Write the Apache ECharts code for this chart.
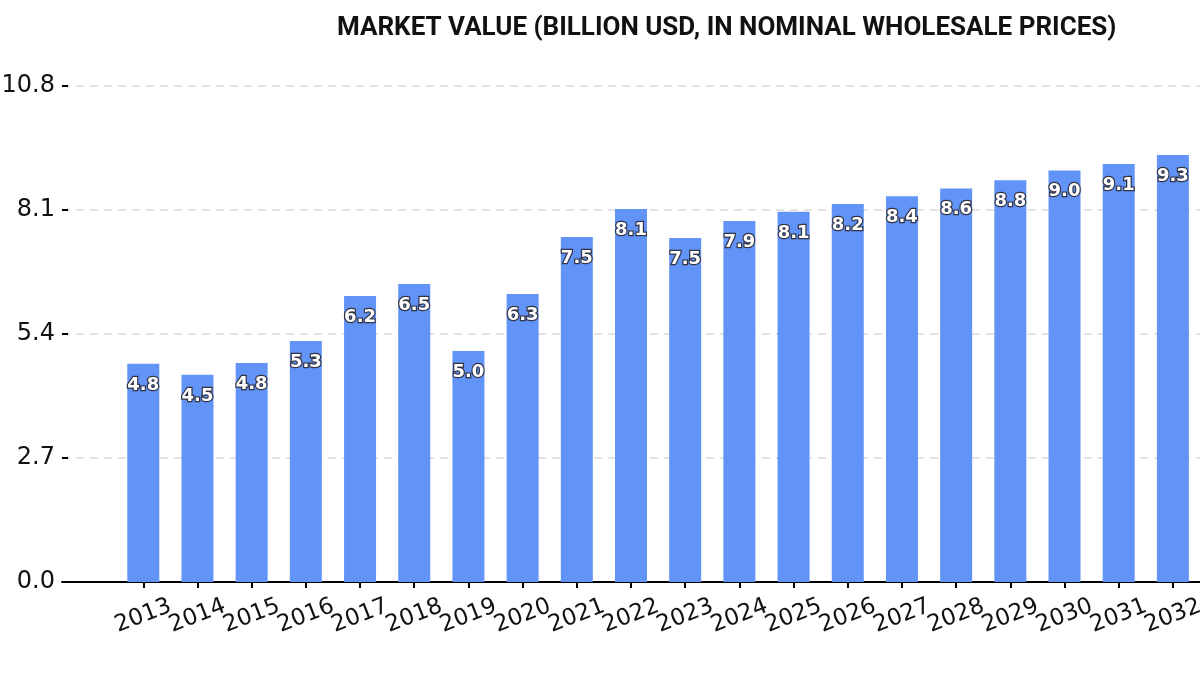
<!DOCTYPE html>
<html>
<head>
<meta charset="utf-8">
<script src="https://cdn.jsdelivr.net/npm/echarts@6/dist/echarts.min.js"></script>
<style>
  html, body { margin: 0; padding: 0; background: #fff; }
  #chart { width: 1200px; height: 675px; }
</style>
</head>
<body>
<div id="chart"></div>
<script>
// years on the x axis
const years = [2013, 2014, 2015, 2016, 2017, 2018, 2019, 2020, 2021, 2022,
  2023, 2024, 2025, 2026, 2027, 2028, 2029, 2030, 2031, 2032]
// market value, billion USD
const marketValue = [4.75, 4.51, 4.77, 5.25, 6.23, 6.49, 5.03, 6.27, 7.51, 8.12,
  7.49, 7.86, 8.06, 8.23, 8.40, 8.57, 8.75, 8.96, 9.10, 9.30]
const yTicks = [0, 2.7, 5.4, 8.1, 10.8]

// the rotated year labels touch each other, so split them over two
// overlapping axes to keep echarts from hiding any of them
const evenYears = years.filter((y, i) => i % 2 === 0)
const oddYears = years.filter((y, i) => i % 2 === 1)

const chart = echarts.init(document.getElementById('chart'))

const yearLabel = {
  formatter: v => String(Math.round(v)),
  showMinLabel: true,
  showMaxLabel: true,
  hideOverlap: false,
  rotate: 21,
  align: 'center',
  verticalAlign: 'middle',
  margin: 34,
  fontFamily: 'DejaVu Sans',
  fontSize: 23,
  color: '#111'
}

const option = {
  animation: false,
  title: {
    text: 'MARKET VALUE (BILLION USD, IN NOMINAL WHOLESALE PRICES)',
    left: 332,
    top: 10,
    textStyle: {
      fontFamily: 'Roboto',
      fontWeight: 'bold',
      fontSize: 26,
      color: '#111'
    }
  },
  grid: {
    left: 62,
    right: 0,
    top: 86,
    bottom: 93,
    containLabel: false,
    outerBoundsMode: 'none'
  },
  xAxis: [
    {
      type: 'value',
      min: 2011.5,
      max: 2032.5,
      splitLine: { show: false },
      axisLine: {
        show: true,
        lineStyle: { color: '#000', width: 2 }
      },
      axisTick: {
        show: true,
        customValues: years,
        length: 6,
        lineStyle: { color: '#000', width: 2 }
      },
      axisLabel: Object.assign({ customValues: evenYears }, yearLabel)
    },
    {
      type: 'value',
      position: 'bottom',
      offset: 0,
      min: 2011.5,
      max: 2032.5,
      splitLine: { show: false },
      axisLine: { show: false },
      axisTick: { show: false },
      axisLabel: Object.assign({ customValues: oddYears }, yearLabel)
    }
  ],
  yAxis: {
    type: 'value',
    min: 0,
    max: 10.8,
    interval: 2.7,
    axisLine: { show: false },
    axisTick: {
      show: true,
      inside: true,
      length: 6,
      lineStyle: { color: '#000', width: 2 }
    },
    axisLabel: {
      margin: 7,
      formatter: v => v.toFixed(1),
      fontFamily: 'DejaVu Sans',
      fontSize: 24,
      color: '#111'
    },
    splitLine: {
      show: true,
      lineStyle: { color: '#dcdcdc', type: [8, 6], width: 1.5 }
    }
  },
  series: [
    {
      type: 'bar',
      xAxisIndex: 0,
      barWidth: 32,
      itemStyle: { color: '#6294f8' },
      data: years.map((y, i) => [y, marketValue[i]]),
      label: {
        show: true,
        position: 'insideTop',
        distance: 12,
        formatter: p => p.value[1].toFixed(1),
        fontFamily: 'DejaVu Sans',
        fontWeight: 'bold',
        fontSize: 18,
        color: '#fff',
        textBorderColor: '#333344',
        textBorderWidth: 2.5
      }
    }
  ]
}

chart.setOption(option)
</script>
</body>
</html>
